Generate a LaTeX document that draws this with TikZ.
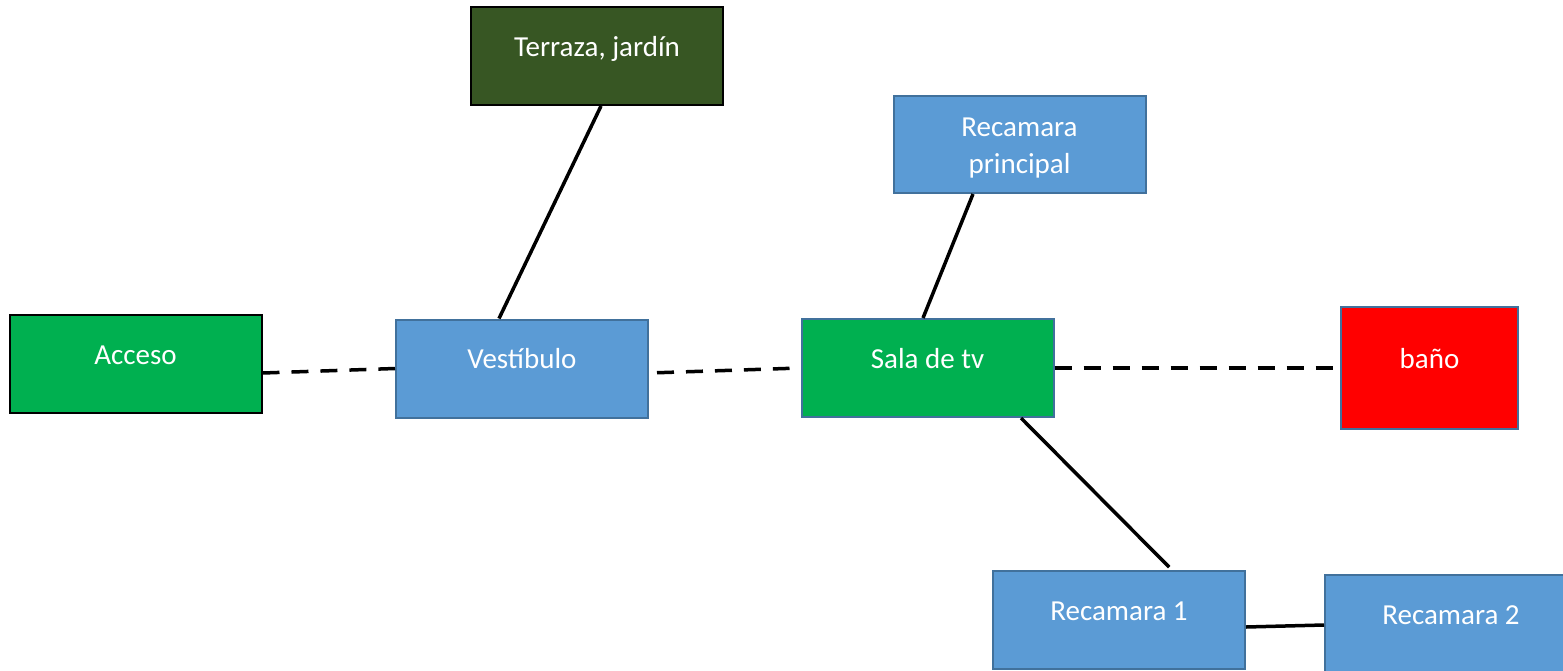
\documentclass[tikz,border=0pt]{standalone}
\usepackage{fontspec}
\setmainfont{Carlito}
\definecolor{roomGreen}{HTML}{00B050}
\definecolor{roomDark}{HTML}{375623}
\definecolor{roomBlue}{HTML}{5B9BD5}
\definecolor{roomEdge}{HTML}{41719C}
\definecolor{roomRed}{HTML}{FF0000}

\begin{document}
\begin{tikzpicture}
[x=1pt,y=-1pt,
  roomDecorate/.style={shape=rectangle,minimum width=252pt,minimum height=98pt,
    inner sep=0pt,line width=2pt,text=white,font=\fontsize{29}{37}\selectfont,
    text height=20pt,text depth=20pt},%
  lineDecorate/.style={-,line width=3.5pt},%
  dashDecorate/.style={-,line width=3.5pt,dash pattern=on 17pt off 12pt}]
\clip (0,0) rectangle (1563,670);
%% rooms
\foreach \nodename/\x/\y/\colour/\edge/\name in {
  acceso/135.5/364/roomGreen/black/Acceso,
  vestibulo/522/368.5/roomBlue/roomEdge/Vestíbulo,
  terraza/597/56/roomDark/black/{Terraza, jardín},
  sala/927.5/368/roomGreen/roomEdge/Sala de tv,
  recamaraA/1119/620/roomBlue/roomEdge/Recamara 1,
  recamaraB/1451/624/roomBlue/roomEdge/Recamara 2}
{
  \node (\nodename) at (\x,\y) [roomDecorate,fill=\colour,draw=\edge] {\name};
}
\node (principal) at (1019.5,144.5) [roomDecorate,fill=roomBlue,draw=roomEdge,
  minimum height=97pt,align=center,text height=57pt,text depth=0pt]
  {Recamara\\principal};
\node (bano) at (1429.5,368) [roomDecorate,fill=roomRed,draw=roomEdge,
  minimum width=177pt,minimum height=122pt] {baño};
%% links
\draw[dashDecorate] ([yshift=-9pt]acceso.east) -- (vestibulo.west);
\draw[dashDecorate,shorten <=8pt,shorten >=11pt]
  ([yshift=-4.5pt]vestibulo.east) -- (sala.west);
\draw[dashDecorate] (sala.east) -- (bano.west);
\draw[lineDecorate] ([xshift=4pt]terraza.south) -- ([xshift=-23pt]vestibulo.north);
\draw[lineDecorate] ([xshift=-46.5pt]principal.south) -- ([xshift=-4.5pt]sala.north);
\draw[lineDecorate,shorten >=4pt]
  ([xshift=93.5pt]sala.south) -- ([xshift=53pt]recamaraA.north);
\draw[lineDecorate] ([yshift=-7pt]recamaraA.east) -- ([yshift=-1pt]recamaraB.west);
\end{tikzpicture}
\end{document}
